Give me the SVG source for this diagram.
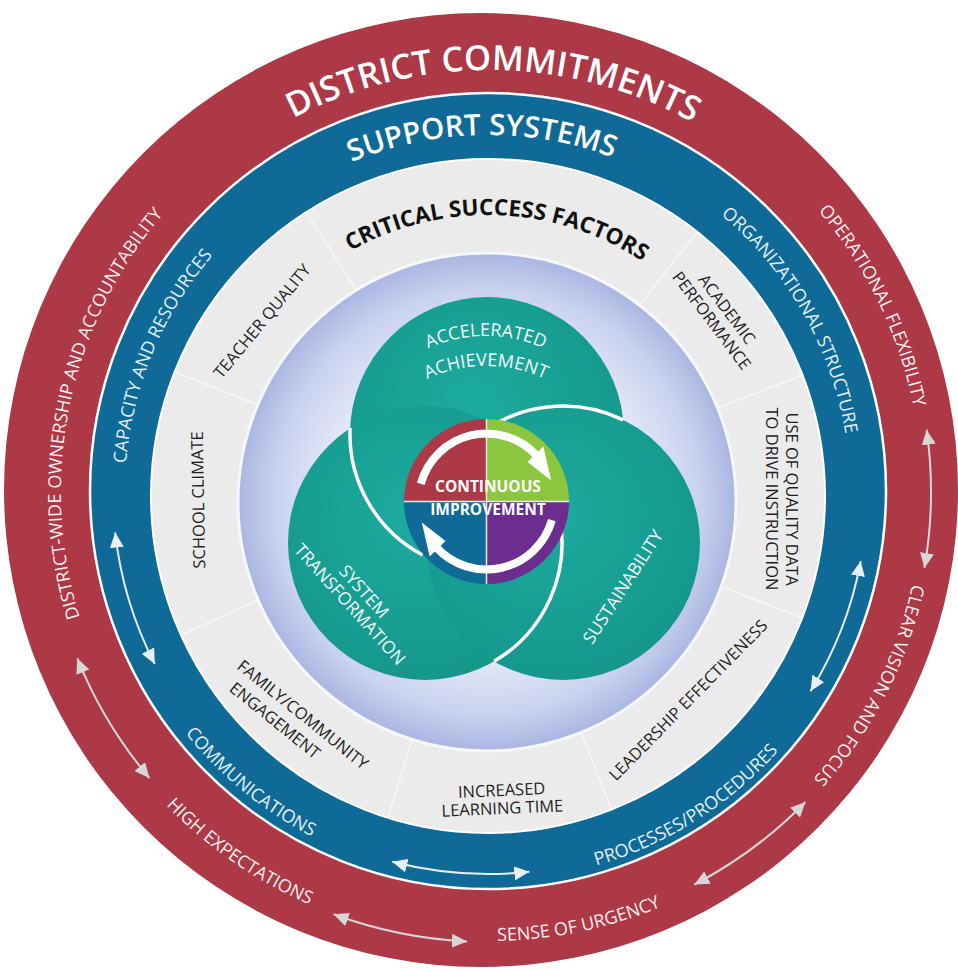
<svg xmlns="http://www.w3.org/2000/svg" width="958" height="971" viewBox="0 0 958 971">
<defs>
<style>
.ff{font-family:'Open Sans','Liberation Sans',sans-serif}
.red-lbl{font-size:18px;fill:#fbeef0}
.blue-lbl{font-size:18px;fill:#e2f0f8}
.title-big{font-size:34.5px;font-weight:600;fill:#ffffff}
.title-mid{font-size:29.5px;font-weight:600;fill:#ffffff}
.title-csf{font-size:22.5px;font-weight:700;fill:#111111}
.factor{font-size:16.5px;fill:#1f1f1f}
.teal-lbl{font-size:17.5px;fill:#f2fbfa}
.ci{font-size:15.5px;font-weight:700;fill:#ffffff}
.arr-red{fill:none;stroke:#d9d6d7;stroke-width:2}
.arr-blue{fill:none;stroke:#e8eef3;stroke-width:2}
.sep{stroke:#f8f8f8;stroke-width:1.5}
.lens{fill:none;stroke:#ffffff;stroke-width:3.5}
.cyc{fill:none;stroke:#ffffff;stroke-width:8}
</style>
<marker id="mk-red" markerUnits="userSpaceOnUse" markerWidth="16" markerHeight="14" refX="15" refY="7" orient="auto-start-reverse"><path d="M0,0 L15,7 L0,14 Z" fill="#d9d6d7"/></marker>
<marker id="mk-blue" markerUnits="userSpaceOnUse" markerWidth="16" markerHeight="14" refX="15" refY="7" orient="auto-start-reverse"><path d="M0,0 L15,7 L0,14 Z" fill="#e8eef3"/></marker>
<radialGradient id="gLight" cx="50%" cy="50%" r="50%">
<stop offset="0" stop-color="#ffffff"/><stop offset="0.55" stop-color="#eef1fa"/><stop offset="0.85" stop-color="#c9d2ef"/><stop offset="1" stop-color="#a9b6e1"/>
</radialGradient>
<radialGradient id="gTeal" cx="45%" cy="40%" r="60%"><stop offset="0" stop-color="#1dab9f"/><stop offset="1" stop-color="#15978c"/></radialGradient>
<path id="p-dc" d="M168.6,217.4 A422,422 0 0 1 815.1,224.2"/>
<path id="p-dw" d="M112.1,694.9 A428,428 0 0 1 223.7,156.1"/>
<path id="p-of" d="M731.7,133.4 A433,433 0 0 1 920.9,523.0"/>
<path id="p-cv" d="M921.4,468.6 A433,433 0 0 1 725.5,854.7"/>
<path id="p-su" d="M348.8,918.6 A449,449 0 0 0 788.3,826.7"/>
<path id="p-he" d="M82.2,684.3 A450,450 0 0 0 452.1,940.5"/>
<path id="p-ss" d="M231.2,244.0 A357,357 0 0 1 736.0,235.2"/>
<path id="p-cr" d="M133.5,569.9 A363,363 0 0 1 293.5,185.5"/>
<path id="p-os" d="M643.3,165.0 A362,362 0 0 1 848.4,526.1"/>
<path id="p-pp" d="M469.3,880.5 A389,389 0 0 0 846.7,642.4"/>
<path id="p-cm" d="M126.0,628.8 A387,387 0 0 0 425.5,873.9"/>
<path id="p-csf" d="M315.0,274.6 A281,281 0 0 1 676.0,287.2"/>
<path id="p-aa1" d="M405.7,361.3 A140,140 0 0 1 566.3,361.3"/>
<path id="p-aa2" d="M405.7,391.3 A140,140 0 0 1 566.3,391.3"/>
</defs>

<g id="district-commitments">
<circle cx="481" cy="490" r="477" fill="#ad3846"/>
<text class="ff title-big"><textPath href="#p-dc" startOffset="50%" text-anchor="middle">DISTRICT COMMITMENTS</textPath></text>
</g>
<g id="dc-ownership"><text class="ff red-lbl"><textPath href="#p-dw" startOffset="50%" text-anchor="middle">DISTRICT-WIDE OWNERSHIP AND ACCOUNTABILITY</textPath></text></g>
<g id="dc-flexibility"><text class="ff red-lbl"><textPath href="#p-of" startOffset="50%" text-anchor="middle">OPERATIONAL FLEXIBILITY</textPath></text></g>
<g id="dc-vision"><text class="ff red-lbl"><textPath href="#p-cv" startOffset="50%" text-anchor="middle">CLEAR VISION AND FOCUS</textPath></text></g>
<g id="dc-urgency"><text class="ff red-lbl"><textPath href="#p-su" startOffset="50%" text-anchor="middle">SENSE OF URGENCY</textPath></text></g>
<g id="dc-expectations"><text class="ff red-lbl"><textPath href="#p-he" startOffset="50%" text-anchor="middle">HIGH EXPECTATIONS</textPath></text></g>

<g id="support-systems">
<circle cx="488" cy="491" r="398" fill="#0f6a97" stroke="#ffffff" stroke-width="2.5"/>
<text class="ff title-mid"><textPath href="#p-ss" startOffset="50%" text-anchor="middle">SUPPORT SYSTEMS</textPath></text>
</g>
<g id="ss-capacity"><text class="ff blue-lbl"><textPath href="#p-cr" startOffset="50%" text-anchor="middle">CAPACITY AND RESOURCES</textPath></text></g>
<g id="ss-organization"><text class="ff blue-lbl"><textPath href="#p-os" startOffset="50%" text-anchor="middle">ORGANIZATIONAL STRUCTURE</textPath></text></g>
<g id="ss-processes"><text class="ff blue-lbl"><textPath href="#p-pp" startOffset="50%" text-anchor="middle">PROCESSES/PROCEDURES</textPath></text></g>
<g id="ss-communications"><text class="ff blue-lbl"><textPath href="#p-cm" startOffset="50%" text-anchor="middle">COMMUNICATIONS</textPath></text></g>

<g id="critical-success-factors">
<circle cx="488" cy="496" r="337" fill="#ebebeb" stroke="#ffffff" stroke-width="2"/>
<line class="sep" x1="356.0" y1="289.6" x2="306.4" y2="212.1"/>
<line class="sep" x1="260.2" y1="405.8" x2="174.7" y2="371.9"/>
<line class="sep" x1="264.9" y1="597.2" x2="181.1" y2="635.2"/>
<line class="sep" x1="415.1" y1="729.9" x2="387.8" y2="817.8"/>
<line class="sep" x1="577.8" y1="724.0" x2="611.5" y2="809.5"/>
<line class="sep" x1="716.4" y1="584.6" x2="802.2" y2="617.9"/>
<line class="sep" x1="716.7" y1="408.2" x2="802.6" y2="375.2"/>
<line class="sep" x1="640.2" y1="304.0" x2="697.3" y2="231.9"/>
<text class="ff title-csf"><textPath href="#p-csf" startOffset="50%" text-anchor="middle">CRITICAL SUCCESS FACTORS</textPath></text>
</g>
<g id="csf-teacher-quality" transform="translate(262,321) rotate(-50.5)"><text class="ff factor" text-anchor="middle" y="6">TEACHER QUALITY</text></g>
<g id="csf-school-climate" transform="translate(198,500) rotate(-91)"><text class="ff factor" text-anchor="middle" y="6">SCHOOL CLIMATE</text></g>
<g id="csf-family" transform="translate(236,668) rotate(39)"><text class="ff factor" x="0" y="0">FAMILY/COMMUNITY</text><text class="ff factor" x="8" y="22">ENGAGEMENT</text></g>
<g id="csf-learning-time" transform="translate(502,799) rotate(-2.5)"><text class="ff factor" text-anchor="middle" y="-3">INCREASED</text><text class="ff factor" text-anchor="middle" y="15">LEARNING TIME</text></g>
<g id="csf-leadership" transform="translate(688,700) rotate(-45.5)"><text class="ff factor" text-anchor="middle" y="6">LEADERSHIP EFFECTIVENESS</text></g>
<g id="csf-data" transform="translate(782,499) rotate(90)"><text class="ff factor" text-anchor="middle" y="-4">USE OF QUALITY DATA</text><text class="ff factor" text-anchor="middle" y="16">TO DRIVE INSTRUCTION</text></g>
<g id="csf-academic" transform="translate(719,315) rotate(53)"><text class="ff factor" text-anchor="middle" y="-4">ACADEMIC</text><text class="ff factor" text-anchor="middle" y="15">PERFORMANCE</text></g>

<g id="core">
<circle cx="487" cy="502" r="249" fill="url(#gLight)" stroke="#f6f7fc" stroke-width="3"/>
</g>
<g id="accelerated-achievement">
<circle cx="487" cy="434" r="137" fill="url(#gTeal)"/>
</g>
<g id="system-transformation">
<circle cx="425" cy="543" r="137" fill="url(#gTeal)"/>
</g>
<g id="sustainability">
<circle cx="563" cy="543" r="137" fill="url(#gTeal)"/>
</g>
<g id="overlaps">
<path class="lens" d="M350.1,428.0 A137,137 0 0 0 422.7,555.0"/>
<path class="lens" d="M623.1,419.9 A137,137 0 0 0 490.4,426.8"/>
<path class="lens" d="M494.1,661.3 A137,137 0 0 0 559.0,514.5"/>
</g>
<g id="teal-labels">
<text class="ff teal-lbl" style="font-size:18px"><textPath href="#p-aa1" startOffset="50%" text-anchor="middle">ACCELERATED</textPath></text>
<text class="ff teal-lbl" style="font-size:18px"><textPath href="#p-aa2" startOffset="50%" text-anchor="middle">ACHIEVEMENT</textPath></text>
<g transform="translate(358,597) rotate(48)"><text class="ff teal-lbl" text-anchor="middle" y="-2">SYSTEM</text><text class="ff teal-lbl" text-anchor="middle" y="17">TRANSFORMATION</text></g>
<g transform="translate(623,587) rotate(-57)"><text class="ff teal-lbl" text-anchor="middle" y="6">SUSTAINABILITY</text></g>
</g>

<g id="continuous-improvement">
<path d="M486.5,501.5 L404,501.5 A82.5,82.5 0 0 1 486.5,419 Z" fill="#ad3846"/>
<path d="M486.5,501.5 L486.5,419 A82.5,82.5 0 0 1 569,501.5 Z" fill="#8cc63e"/>
<path d="M486.5,501.5 L569,501.5 A82.5,82.5 0 0 1 486.5,584 Z" fill="#6b2d8e"/>
<path d="M486.5,501.5 L486.5,584 A82.5,82.5 0 0 1 404,501.5 Z" fill="#0f6a97"/>
<line x1="486.5" y1="419" x2="486.5" y2="584" stroke="#e8eef3" stroke-width="1.5"/>
<line x1="404" y1="501.5" x2="569" y2="501.5" stroke="#e8eef3" stroke-width="1.5"/>
<path class="cyc" d="M420.8,483.9 A68,68 0 0 1 537.0,456.0"/>
<path d="M527.5,461.9 L543.3,446.6 L551.2,480.5 Z" fill="#ffffff"/>
<path class="cyc" d="M551.9,520.2 A68,68 0 0 1 436.0,547.0"/>
<path d="M445.5,541.1 L429.7,556.4 L421.8,522.5 Z" fill="#ffffff"/>
<text class="ff ci" x="488" y="492" text-anchor="middle">CONTINUOUS</text>
<text class="ff ci" x="488" y="515" text-anchor="middle">IMPROVEMENT</text>
</g>

<g id="connectors">
<path class="arr-red" d="M149.4,778.0 A444,444 0 0 1 77.3,658.3" marker-start="url(#mk-red)" marker-end="url(#mk-red)"/>
<path class="arr-red" d="M467.0,941.5 A450,450 0 0 1 333.6,914.3" marker-start="url(#mk-red)" marker-end="url(#mk-red)"/>
<path class="arr-red" d="M805.5,802.0 A443,443 0 0 1 694.2,884.6" marker-start="url(#mk-red)" marker-end="url(#mk-red)"/>
<path class="arr-red" d="M926.6,429.7 A442,442 0 0 1 924.4,568.0" marker-start="url(#mk-red)" marker-end="url(#mk-red)"/>
<path class="arr-blue" d="M154.8,664.0 A375,375 0 0 1 115.2,532.5" marker-start="url(#mk-blue)" marker-end="url(#mk-blue)"/>
<path class="arr-blue" d="M529.3,871.8 A382,382 0 0 1 392.3,861.8" marker-start="url(#mk-blue)" marker-end="url(#mk-blue)"/>
<path class="arr-blue" d="M860.7,561.1 A379,379 0 0 1 810.5,691.2" marker-start="url(#mk-blue)" marker-end="url(#mk-blue)"/>
</g>
</svg>
